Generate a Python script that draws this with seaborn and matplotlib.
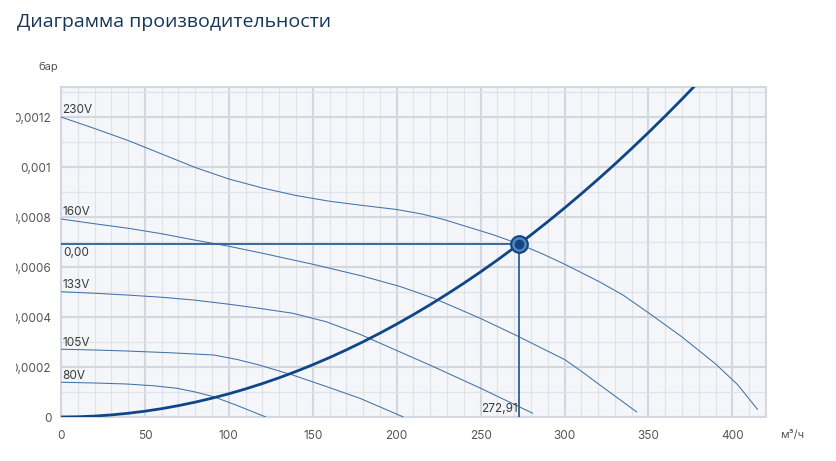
import numpy as np
import pandas as pd
import matplotlib
matplotlib.use("Agg")
import matplotlib.pyplot as plt
from matplotlib.ticker import MultipleLocator, FuncFormatter
from matplotlib.transforms import Bbox, TransformedBbox
import seaborn as sns

# fan curves (м³/ч, бар)
x_230 = [0, 20, 40, 60, 80, 100, 120, 140, 160, 180, 200, 215, 228, 241,
         257, 273, 287, 301, 321, 335, 351, 370, 390, 403, 415]
y_230 = [0.001200, 0.001154, 0.001106, 0.001052, 0.000998, 0.000952,
         0.000916, 0.000886, 0.000863, 0.000846, 0.000830, 0.000812,
         0.000790, 0.000763, 0.000730, 0.000692, 0.000652, 0.000608,
         0.000540, 0.000487, 0.000412, 0.000320, 0.000212, 0.000130,
         0.00003]
x_160 = [0, 20, 40, 60, 77, 100, 120, 152, 180, 202, 222, 237, 250, 271,
         285, 300, 310, 320, 343]
y_160 = [0.000792, 0.000773, 0.000755, 0.000733, 0.000711, 0.000683,
         0.000655, 0.000608, 0.000563, 0.000522, 0.000475, 0.000432,
         0.000394, 0.000327, 0.000280, 0.000230, 0.000183, 0.000133,
         0.00002]
x_133 = [0, 20, 39, 60, 79, 99, 118, 138, 158, 178, 200, 222, 250, 281]
y_133 = [0.000501, 0.000495, 0.000488, 0.000479, 0.000468, 0.000452,
         0.000435, 0.000415, 0.000381, 0.000331, 0.000266, 0.000201,
         0.000115, 0.000015]
x_105 = [0, 20, 39, 65, 91, 105, 118, 138, 158, 178, 204]
y_105 = [0.000271, 0.000268, 0.000264, 0.000257, 0.000248, 0.000230,
         0.000208, 0.000168, 0.000122, 0.000075, 0.0]
x_80 = [0, 20, 39, 55, 69, 80, 91, 105, 122]
y_80 = [0.000139, 0.000136, 0.000132, 0.000125, 0.000115, 0.000100,
        0.000081, 0.000046, 0.0]

fan_names = ["230V", "160V", "133V", "105V", "80V"]
fan_x = [x_230, x_160, x_133, x_105, x_80]
fan_y = [y_230, y_160, y_133, y_105, y_80]

# system (duct) curve
x_sys = [0, 10, 20, 30, 40, 50, 60, 70, 80, 90, 100, 110, 120, 130, 140,
         150, 160, 170, 180, 190, 200, 210, 220, 230, 240, 250, 260, 272.91,
         280, 290, 300, 310, 320, 330, 340, 350, 360, 370, 380]
y_sys = [0.0, 0.00000093, 0.0000037, 0.0000084, 0.0000149, 0.0000232,
         0.0000334, 0.0000455, 0.0000595, 0.0000753, 0.0000929, 0.0001124,
         0.0001338, 0.000157, 0.0001821, 0.000209, 0.0002378, 0.0002685,
         0.000301, 0.0003354, 0.0003716, 0.0004097, 0.0004496, 0.0004915,
         0.0005351, 0.0005806, 0.000628, 0.000692, 0.0007284, 0.0007813,
         0.0008361, 0.0008928, 0.0009513, 0.0010117, 0.001074, 0.0011381,
         0.001204, 0.0012718, 0.0013415]

op_x = 272.91
op_y = 0.000692
op_x_label = "272,91"
op_y_label = "0,00"

df_fans = pd.concat([pd.DataFrame({"q": x, "p": y, "curve": n})
                     for n, x, y in zip(fan_names, fan_x, fan_y)])
df_sys = pd.DataFrame({"q": x_sys, "p": y_sys})

sns.set_theme(style="white")
plt.rcParams["font.family"] = ["Inter", "DejaVu Sans"]

fan_col = "#4272a9"
sys_col = "#0f4686"
grid_major = "#d3d8de"
grid_minor = "#e0e3e7"

fig = plt.figure(figsize=(8.37, 4.61), dpi=100)
ax = fig.add_axes([61 / 837, 44 / 461, 705 / 837, 330 / 461])
ax.set_facecolor("#f4f6f9")

for n in fan_names:
    sns.lineplot(data=df_fans[df_fans["curve"] == n], x="q", y="p", ax=ax,
                 color=fan_col, linewidth=0.75, estimator=None, sort=False,
                 zorder=3, solid_joinstyle="round")
sns.lineplot(data=df_sys, x="q", y="p", ax=ax, color=sys_col, linewidth=2.0,
             estimator=None, sort=False, zorder=4, solid_joinstyle="round")

# operating point guides
ax.plot([0, op_x], [op_y, op_y], color="#2d5f98", lw=1.3, zorder=3)
ax.plot([op_x, op_x], [0, op_y], color="#2d5f98", lw=1.3, zorder=3)
ax.plot(op_x, op_y, "o", ms=12, mfc="#5b84b5", mec=sys_col, mew=1.5, zorder=5)
ax.plot(op_x, op_y, "o", ms=7, mfc=sys_col, mec=sys_col, mew=0, zorder=6)

for n, x, y in zip(fan_names, fan_x, fan_y):
    ax.annotate(n, (x[0], y[0]), xytext=(1, 0.5), textcoords="offset points",
                ha="left", va="bottom", fontsize=8.5, color="#3a3a3a")
ax.annotate(op_y_label, (0, op_y), xytext=(1.5, -2.5),
            textcoords="offset points", ha="left", va="top", fontsize=8.5,
            color="#3a3a3a")
ax.annotate(op_x_label, (op_x, 0), xytext=(-1, 1.5),
            textcoords="offset points", ha="right", va="bottom", fontsize=8.5,
            color="#3a3a3a")

ax.set_xlim(0, 420)
ax.set_ylim(0, 0.00132)
ax.xaxis.set_major_locator(MultipleLocator(50))
ax.xaxis.set_minor_locator(MultipleLocator(10))
ax.yaxis.set_major_locator(MultipleLocator(0.0002))
ax.yaxis.set_minor_locator(MultipleLocator(0.0001))
ax.yaxis.set_major_formatter(
    FuncFormatter(lambda v, p: "0" if abs(v) < 1e-12 else f"{v:g}".replace(".", ",")))
ax.xaxis.set_major_formatter(FuncFormatter(lambda v, p: f"{v:g}"))
ax.grid(which="major", color=grid_major, linewidth=1.5, zorder=0)
ax.grid(which="minor", color=grid_minor, linewidth=0.9, zorder=0)
ax.set_axisbelow(True)
ax.tick_params(which="both", length=0, labelsize=8.5, labelcolor="#555555")
ax.tick_params(axis="x", pad=9)
ax.tick_params(axis="y", pad=7)
ax.set_xlabel("")
ax.set_ylabel("")
for s in ax.spines.values():
    s.set_color(grid_major)
    s.set_linewidth(1.5)

ax.text(-0.018, 1.06, "бар", transform=ax.transAxes, ha="center",
        va="center", fontsize=8, color="#555555")
ax.text(1.02, -0.055, "м³/ч", transform=ax.transAxes, ha="left",
        va="center", fontsize=8, color="#555555")

fig.text(17 / 837, 1 - 22 / 461, "Диаграмма производительности",
         fontsize=14, color="#16365a", ha="left", va="center",
         family=["Open Sans", "DejaVu Sans"])

# the y tick label area is cut off at the left edge in the original
fig.canvas.draw()
clip = TransformedBbox(Bbox.from_extents(16 / 837, 0, 1, 1), fig.transFigure)
for t in ax.get_yticklabels():
    t.set_clip_box(clip)
    t.set_clip_on(True)

fig.savefig("out.png", dpi=100)
